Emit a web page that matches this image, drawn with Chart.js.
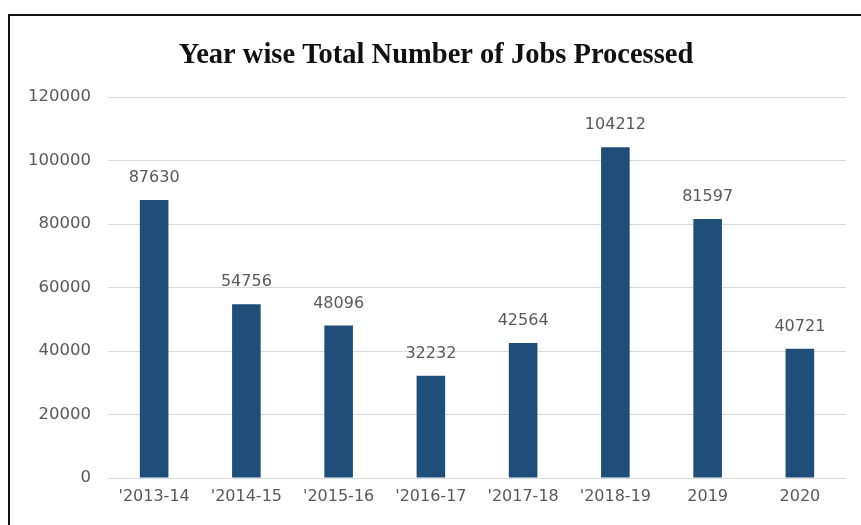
<!DOCTYPE html>
<html>
<head>
<meta charset="utf-8">
<script src="https://cdn.jsdelivr.net/npm/chart.js@4.4.1/dist/chart.umd.min.js"></script>
<style>
  html, body { margin: 0; padding: 0; background: #fff; }
  #wrap { position: relative; width: 861px; height: 525px; overflow: hidden; }
  #frame { position: absolute; left: 8px; top: 14px; width: 900px; height: 600px;
           border-left: 2px solid #111; border-top: 2px solid #111; pointer-events: none; }
  canvas { position: absolute; left: 0; top: 0; }
</style>
</head>
<body>
<div id="wrap">
  <canvas id="c" width="861" height="525"></canvas>
  <div id="frame"></div>
</div>
<script>
// Jobs processed per year
const years = ["'2013-14", "'2014-15", "'2015-16", "'2016-17", "'2017-18", "'2018-19", "2019", "2020"];
const jobsProcessed = [87630, 54756, 48096, 32232, 42564, 104212, 81597, 40721];
const yTicks = [0, 20000, 40000, 60000, 80000, 100000, 120000];

const labelFont = '16px "DejaVu Sans", sans-serif';
const textGray = '#595959';

// Writes each bar's value above it
const valueLabels = {
  id: 'valueLabels',
  afterDatasetsDraw(chart) {
    const ctx = chart.ctx;
    const meta = chart.getDatasetMeta(0);
    ctx.save();
    ctx.font = labelFont;
    ctx.fillStyle = textGray;
    ctx.textAlign = 'center';
    ctx.textBaseline = 'middle';
    meta.data.forEach((bar, i) => {
      ctx.fillText(String(jobsProcessed[i]), bar.x, bar.y - 22);
    });
    ctx.restore();
  }
};

new Chart(document.getElementById('c'), {
  type: 'bar',
  data: {
    labels: years,
    datasets: [{
      data: jobsProcessed,
      backgroundColor: '#1f4e79',
      categoryPercentage: 1,
      barPercentage: 0.31
    }]
  },
  options: {
    responsive: false,
    animation: false,
    layout: { padding: { left: 26, right: 15, top: 0, bottom: 0 } },
    plugins: {
      legend: { display: false },
      tooltip: { enabled: false },
      title: {
        display: true,
        text: 'Year wise Total Number of Jobs Processed',
        color: '#111',
        font: { family: '"Liberation Serif", "Times New Roman", serif', size: 28.5, weight: 'bold' },
        padding: { top: 39, bottom: 24 }
      }
    },
    scales: {
      x: {
        grid: { display: false, drawTicks: false },
        border: { display: false },
        ticks: { color: textGray, font: { family: '"DejaVu Sans", sans-serif', size: 16 }, padding: 9, maxRotation: 0 },
        afterFit(scale) { scale.height = 47; }
      },
      y: {
        min: 0,
        max: 120000,
        afterBuildTicks(scale) { scale.ticks = yTicks.map(v => ({ value: v })); },
        grid: { color: '#d9d9d9', lineWidth: 1, drawTicks: false },
        border: { display: false },
        ticks: {
          color: textGray,
          font: { family: '"DejaVu Sans", sans-serif', size: 16.5 },
          padding: 17,
          callback: v => String(v)
        },
        afterFit(scale) { scale.width = 82; }
      }
    }
  },
  plugins: [valueLabels]
});
</script>
</body>
</html>
